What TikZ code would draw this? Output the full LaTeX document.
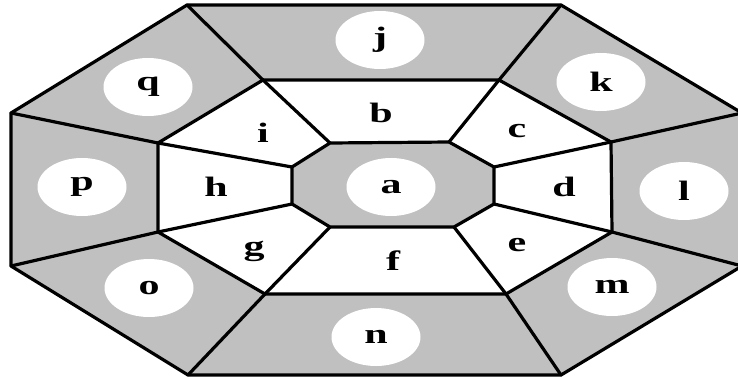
\documentclass[tikz,border=0pt]{standalone}
\usepackage{fontspec}
\setmainfont{Liberation Serif}
\usetikzlibrary{shapes.geometric}
\definecolor{ringgray}{RGB}{192,192,192}
\tikzset{
  edge/.style={draw=black, line width=3.2pt, line join=round, line cap=round},
  lab/.style={font=\fontsize{28}{31}\selectfont\bfseries, inner sep=0pt, text=black},
  oval/.style={lab, ellipse, fill=white, minimum width=89pt, minimum height=58pt},
}
\newcommand\widelet[1]{\scalebox{1.5}[1]{#1}}
\begin{document}
\begin{tikzpicture}[x=1pt,y=-1pt]
\useasboundingbox (0,0) rectangle (738,378);
\clip (0,0) rectangle (738,378);
\fill[white] (0,0) rectangle (738,378);
% outer octagon
\coordinate (O1) at (187,5);
\coordinate (O2) at (561,5);
\coordinate (O3) at (742,113);
\coordinate (O4) at (742,266);
\coordinate (O5) at (561,375);
\coordinate (O6) at (188,375);
\coordinate (O7) at (11,266);
\coordinate (O8) at (11,113);
% middle octagon
\coordinate (M1) at (263,80);
\coordinate (M2) at (499,80);
\coordinate (M3) at (611,142);
\coordinate (M4) at (612,232);
\coordinate (M5) at (506,294);
\coordinate (M6) at (265,294);
\coordinate (M7) at (158,232);
\coordinate (M8) at (158,143);
% inner octagon
\coordinate (I1) at (330,143);
\coordinate (I2) at (449,142);
\coordinate (I3) at (494,167);
\coordinate (I4) at (494,204);
\coordinate (I5) at (454,227);
\coordinate (I6) at (330,227);
\coordinate (I7) at (292,204);
\coordinate (I8) at (292,167);
% fills
\fill[ringgray] (O1)--(O2)--(O3)--(O4)--(O5)--(O6)--(O7)--(O8)--cycle;
\fill[white] (M1)--(M2)--(M3)--(M4)--(M5)--(M6)--(M7)--(M8)--cycle;
\fill[ringgray] (I1)--(I2)--(I3)--(I4)--(I5)--(I6)--(I7)--(I8)--cycle;
% edges
\draw[edge] (O1)--(O2)--(O3)--(O4)--(O5)--(O6)--(O7)--(O8)--cycle;
\draw[edge] (M1)--(M2)--(M3)--(M4)--(M5)--(M6)--(M7)--(M8)--cycle;
\draw[edge] (I1)--(I2)--(I3)--(I4)--(I5)--(I6)--(I7)--(I8)--cycle;
\foreach \k in {1,...,8} {
  \draw[edge] (O\k)--(M\k);
  \draw[edge] (M\k)--(I\k);
}
% labels in ovals
\node[oval] (a) at (391,187) {\widelet{a}};
\node[oval] (j) at (380,40) {\widelet{j}};
\node[oval] (k) at (601,82) {\widelet{k}};
\node[oval] (l) at (684,191) {\widelet{l}};
\node[oval] (m) at (612,287) {\widelet{m}};
\node[oval] (n) at (376,337) {\widelet{n}};
\node[oval] (o) at (149,288) {\widelet{o}};
\node[oval] (p) at (82,187) {\widelet{p}};
\node[oval] (q) at (148,87) {\widelet{q}};
% plain labels
\node[lab] (b) at (381,113) {\widelet{b}};
\node[lab] (c) at (517,131) {\widelet{c}};
\node[lab] (d) at (564,187) {\widelet{d}};
\node[lab] (e) at (517,245) {\widelet{e}};
\node[lab] (f) at (393,261) {\widelet{f}};
\node[lab] (g) at (254,251) {\widelet{g}};
\node[lab] (h) at (216,187) {\widelet{h}};
\node[lab] (i) at (263,133) {\widelet{i}};
\end{tikzpicture}
\end{document}
